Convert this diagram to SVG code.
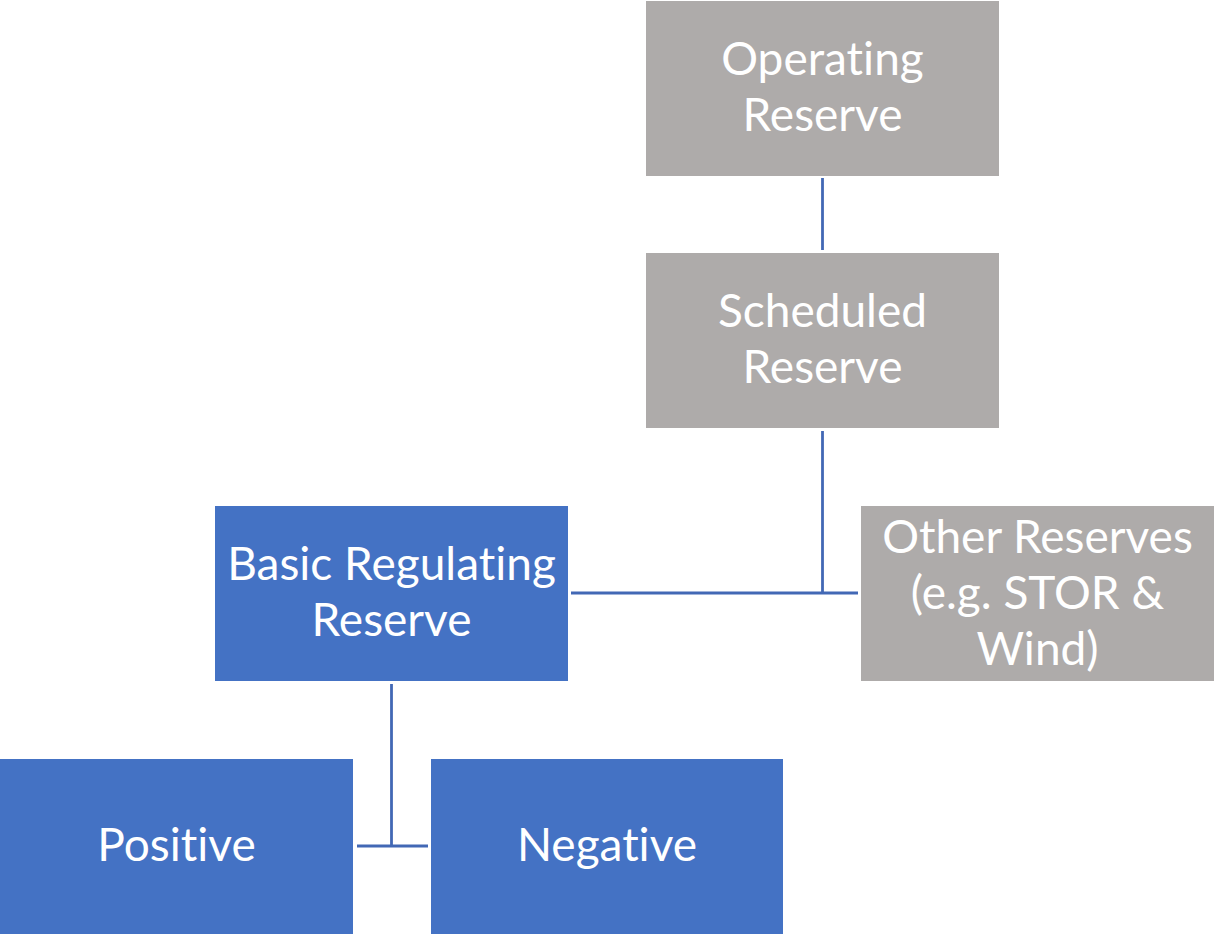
<svg xmlns="http://www.w3.org/2000/svg" width="1215" height="934" viewBox="0 0 1215 934">
<style>
.gray{fill:#AEABAA}
.blue{fill:#4472C4}
.t{font-family:Lato,"Open Sans","Liberation Sans",sans-serif;font-size:46px;fill:#FFFFFF;text-anchor:middle;font-variant-ligatures:none;font-feature-settings:"liga" 0}
.c{stroke:#4268B5;stroke-width:2.8;fill:none}
</style>
<rect width="1215" height="934" fill="#FFFFFF"/>
<g id="connectors">
<line class="c" x1="822.5" y1="178" x2="822.5" y2="250"/>
<line class="c" x1="822.5" y1="431" x2="822.5" y2="593"/>
<line class="c" x1="571" y1="593" x2="858" y2="593"/>
<line class="c" x1="391.5" y1="684" x2="391.5" y2="846"/>
<line class="c" x1="357" y1="846" x2="428" y2="846"/>
</g>
<g id="operating-reserve">
<rect class="gray" x="646" y="1" width="353" height="175"/>
<text class="t" x="822.5" y="75">Operating</text>
<text class="t" x="822.5" y="131">Reserve</text>
</g>
<g id="scheduled-reserve">
<rect class="gray" x="646" y="253" width="353" height="175"/>
<text class="t" x="822.5" y="327">Scheduled</text>
<text class="t" x="822.5" y="383">Reserve</text>
</g>
<g id="basic-regulating-reserve">
<rect class="blue" x="215" y="506" width="353" height="175"/>
<text class="t" x="391.5" y="580">Basic Regulating</text>
<text class="t" x="391.5" y="636">Reserve</text>
</g>
<g id="other-reserves">
<rect class="gray" x="861" y="506" width="353" height="175"/>
<text class="t" x="1037.5" y="553">Other Reserves</text>
<text class="t" x="1037.5" y="609">(e.g. STOR &amp;</text>
<text class="t" x="1037.5" y="665">Wind)</text>
</g>
<g id="positive">
<rect class="blue" x="0" y="759" width="353" height="175"/>
<text class="t" x="176.5" y="861">Positive</text>
</g>
<g id="negative">
<rect class="blue" x="431" y="759" width="352" height="175"/>
<text class="t" x="607" y="861">Negative</text>
</g>
</svg>
